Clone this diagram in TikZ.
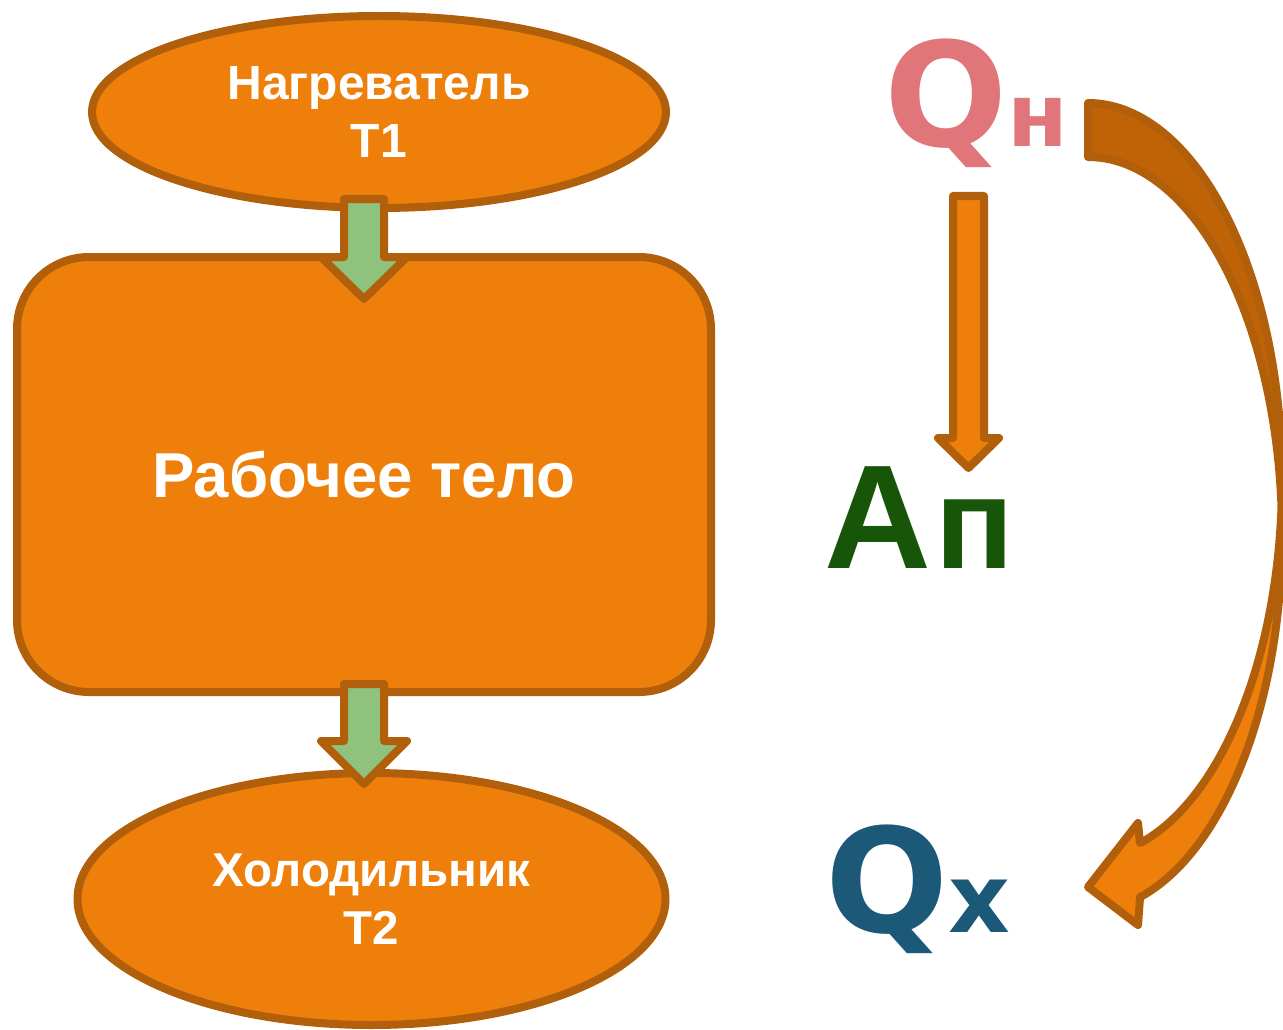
\documentclass[tikz,border=0pt]{standalone}
\usepackage{fontspec}
\setmainfont{Liberation Sans}
\newfontfamily\dvs{DejaVu Sans}
\usetikzlibrary{shapes.geometric}
\definecolor{orfill}{HTML}{EE7F0B}
\definecolor{brd}{HTML}{B15F0A}
\definecolor{darklobe}{HTML}{BF6306}
\definecolor{grn}{HTML}{8EC27D}
\definecolor{qncol}{HTML}{E0757A}
\definecolor{qxcol}{HTML}{1C5878}
\definecolor{apcol}{HTML}{175609}
\tikzset{
  orshape/.style={fill=orfill, draw=brd, line width=8pt, line join=round, text=white, inner sep=0pt, align=center},
  greenarrow/.style={fill=grn, draw=brd, line width=8pt, line join=round},
  orarrow/.style={fill=orfill, draw=brd, line width=8pt, line join=round},
  biglabel/.style={anchor=base west, inner sep=0pt},
}
% #1 style, #2 cx, #3 ytop, #4 ytip, #5 shaft half, #6 head half, #7 head length
\newcommand{\dnblockarrow}[7]{%
  \draw[#1] ({#2-#5},#3) -- ({#2+#5},#3) -- ({#2+#5},{#4-#7}) -- ({#2+#6},{#4-#7})
    -- (#2,#4) -- ({#2-#6},{#4-#7}) -- ({#2-#5},{#4-#7}) -- cycle;}
\begin{document}
\begin{tikzpicture}[x=1pt,y=-1pt]
\useasboundingbox (0,0) rectangle (1283,1030);
% heater
\node[orshape, ellipse, minimum width=574pt, minimum height=192pt,
  font=\fontsize{48}{58}\selectfont\bfseries] (heater) at (379,112) {Нагреватель\\T1};
% working body
\node[orshape, rectangle, rounded corners=72pt, minimum width=694pt, minimum height=435pt,
  font=\fontsize{63.5}{70}\selectfont\bfseries] (body) at (364,474.5) {Рабочее тело};
% cooler
\node[orshape, ellipse, minimum width=588pt, minimum height=252pt,
  font=\fontsize{47.5}{58}\selectfont\bfseries] (cooler) at (371.5,899) {Холодильник\\T2};
% green arrows
\dnblockarrow{greenarrow}{364}{199}{299}{20}{43}{42}
\dnblockarrow{greenarrow}{364}{684}{784}{20}{43}{43}
% vertical orange arrow
\dnblockarrow{orarrow}{968.5}{196}{468}{15.5}{30.5}{30}
% labels
\node[biglabel, text=qncol] (qn) at (884,147) {\dvs\bfseries\fontsize{145}{145}\selectfont Q\fontsize{88}{88}\selectfont н};
\node[biglabel, text=apcol] (ap) at (824,568) {\bfseries\fontsize{148}{148}\selectfont А\kern4pt\fontsize{130}{130}\selectfont п};
\node[biglabel, text=qxcol] (qx) at (825,932) {\dvs\bfseries\fontsize{145}{145}\selectfont Q\fontsize{96}{96}\selectfont х};
% curved arrow
\fill[darklobe] plot[domain=0:94.1, samples=60, smooth] ({1088+194*sin(\x)},{480-377*cos(\x)})
  -- plot[domain=85.9:0, samples=60, smooth] ({1088+194*sin(\x)},{534-377*cos(\x)}) -- cycle;
\fill[orfill] plot[domain=94.1:164.45, samples=60, smooth] ({1088+194*sin(\x)},{480-377*cos(\x)})
  -- (1138,823) -- (1088,887) -- (1138,925) -- (1140,898)
  -- plot[domain=164.45:85.9, samples=60, smooth] ({1088+194*sin(\x)},{534-377*cos(\x)}) -- cycle;
\draw[brd, line width=8pt, line join=round] plot[domain=0:164.45, samples=100, smooth] ({1088+194*sin(\x)},{480-377*cos(\x)})
  -- (1138,823) -- (1088,887) -- (1138,925) -- (1140,898)
  -- plot[domain=164.45:0, samples=100, smooth] ({1088+194*sin(\x)},{534-377*cos(\x)}) -- cycle;
\end{tikzpicture}
\end{document}
